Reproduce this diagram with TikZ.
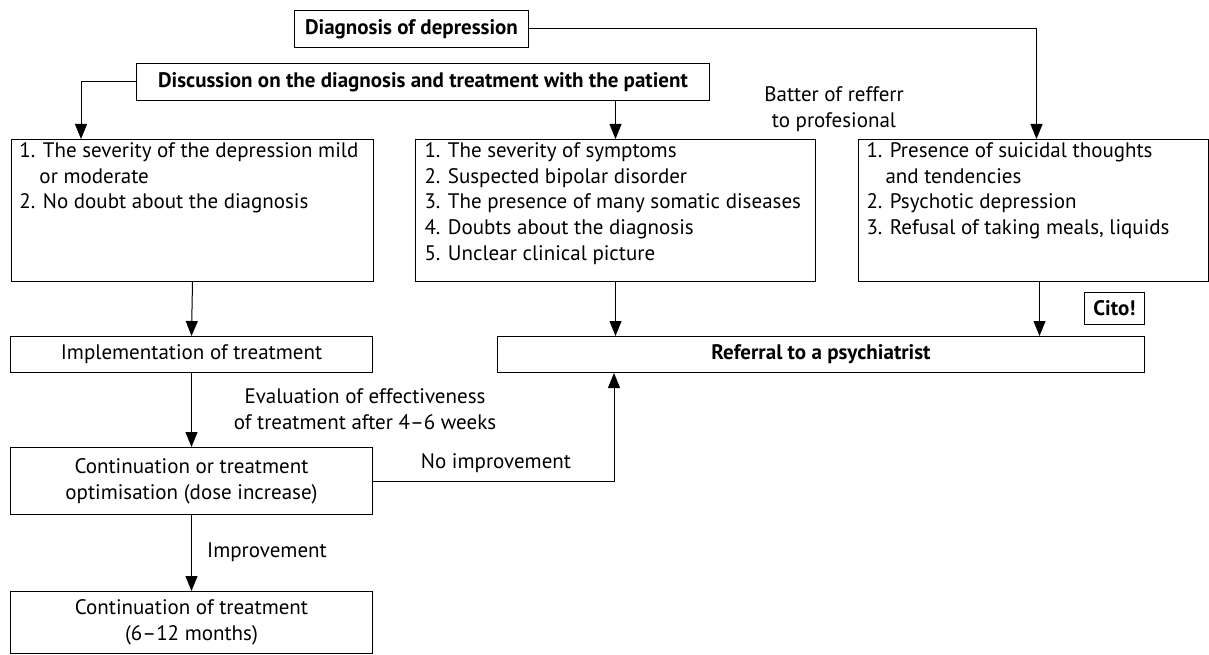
\documentclass[tikz,border=0pt]{standalone}
\usepackage{fontspec}
\setmainfont{PT Sans}
\usetikzlibrary{arrows.meta}
\begin{document}
\begin{tikzpicture}[x=1pt,y=-1pt,
  box/.style={draw, line width=1pt, inner sep=0pt, anchor=north west, font=\fontsize{21}{25.7}\selectfont},
  bbox/.style={box, font=\fontsize{21}{25.7}\selectfont\bfseries},
  lbl/.style={inner sep=0pt, align=center, font=\fontsize{21}{25.7}\selectfont},
  conn/.style={line width=1pt, -{Triangle[length=15pt,width=12pt]}},
  plain/.style={line width=1pt}]
\useasboundingbox (0,0) rectangle (1209,655);
% boxes
\node[bbox, minimum width=234, minimum height=37] (diag) at (294,10) {Diagnosis of depression};
\node[bbox, minimum width=573, minimum height=37] (disc) at (136,63) {Discussion on the diagnosis and treatment with the patient};
\node[box, minimum width=362, minimum height=142] (L1) at (11,139) {\begin{minipage}[c][142pt][t]{346pt}\raggedright
\rule{0pt}{18pt}1. The severity of the depression mild\\
\hspace*{20pt}or moderate\\
2. No doubt about the diagnosis\end{minipage}};
\node[box, minimum width=400, minimum height=142] (M1) at (415,139) {\begin{minipage}[c][142pt][t]{382pt}\raggedright
\rule{0pt}{18pt}1. The severity of symptoms\\
2. Suspected bipolar disorder\\
3. The presence of many somatic diseases\\
4. Doubts about the diagnosis\\
5. Unclear clinical picture\end{minipage}};
\node[box, minimum width=350, minimum height=142] (R1) at (858,139) {\begin{minipage}[c][142pt][t]{334pt}\raggedright
\rule{0pt}{18pt}1. Presence of suicidal thoughts\\
\hspace*{19pt}and tendencies\\
2. Psychotic depression\\
3. Refusal of taking meals, liquids\end{minipage}};
\node[box, minimum width=362, minimum height=36] (impl) at (10,336) {Implementation of treatment};
\node[bbox, minimum width=647, minimum height=36] (ref) at (497,336) {Referral to a psychiatrist};
\node[bbox, minimum width=60, minimum height=32] (cito) at (1084,292) {Cito!};
\node[box, minimum width=362, minimum height=67, align=center] (cont1) at (10,447) {Continuation or treatment\\optimisation (dose increase)};
\node[box, minimum width=362, minimum height=62, align=center] (cont2) at (10,591) {Continuation of treatment\\(6--12 months)};
% labels
\node[lbl] (batter) at (834,109) {Batter of refferr\\to profesional};
\node[lbl] (eval) at (365,409) {Evaluation of effectiveness\\of treatment after 4--6 weeks};
\node[lbl] (noimp) at (496,463) {No improvement};
\node[lbl, anchor=west] (imp) at (207,552) {Improvement};
% connectors
\draw[conn] (diag.east) -| ([xshift=3pt]R1.north);
\draw[conn] (disc.west) -| ([xshift=70pt]L1.north west);
\draw[conn] (disc.south -| M1.north) -- (M1.north);
\draw[conn] (L1.south) -- (impl.north);
\draw[conn] (M1.south) -- (M1.south |- ref.north);
\draw[conn] ([xshift=6pt]R1.south) -- ([xshift=6pt]R1.south |- ref.north);
\draw[conn] (impl.south) -- (cont1.north);
\draw[conn] (cont1.east) -| ([xshift=117pt]ref.south west);
\draw[conn] (cont1.south) -- (cont2.north);
\end{tikzpicture}
\end{document}
